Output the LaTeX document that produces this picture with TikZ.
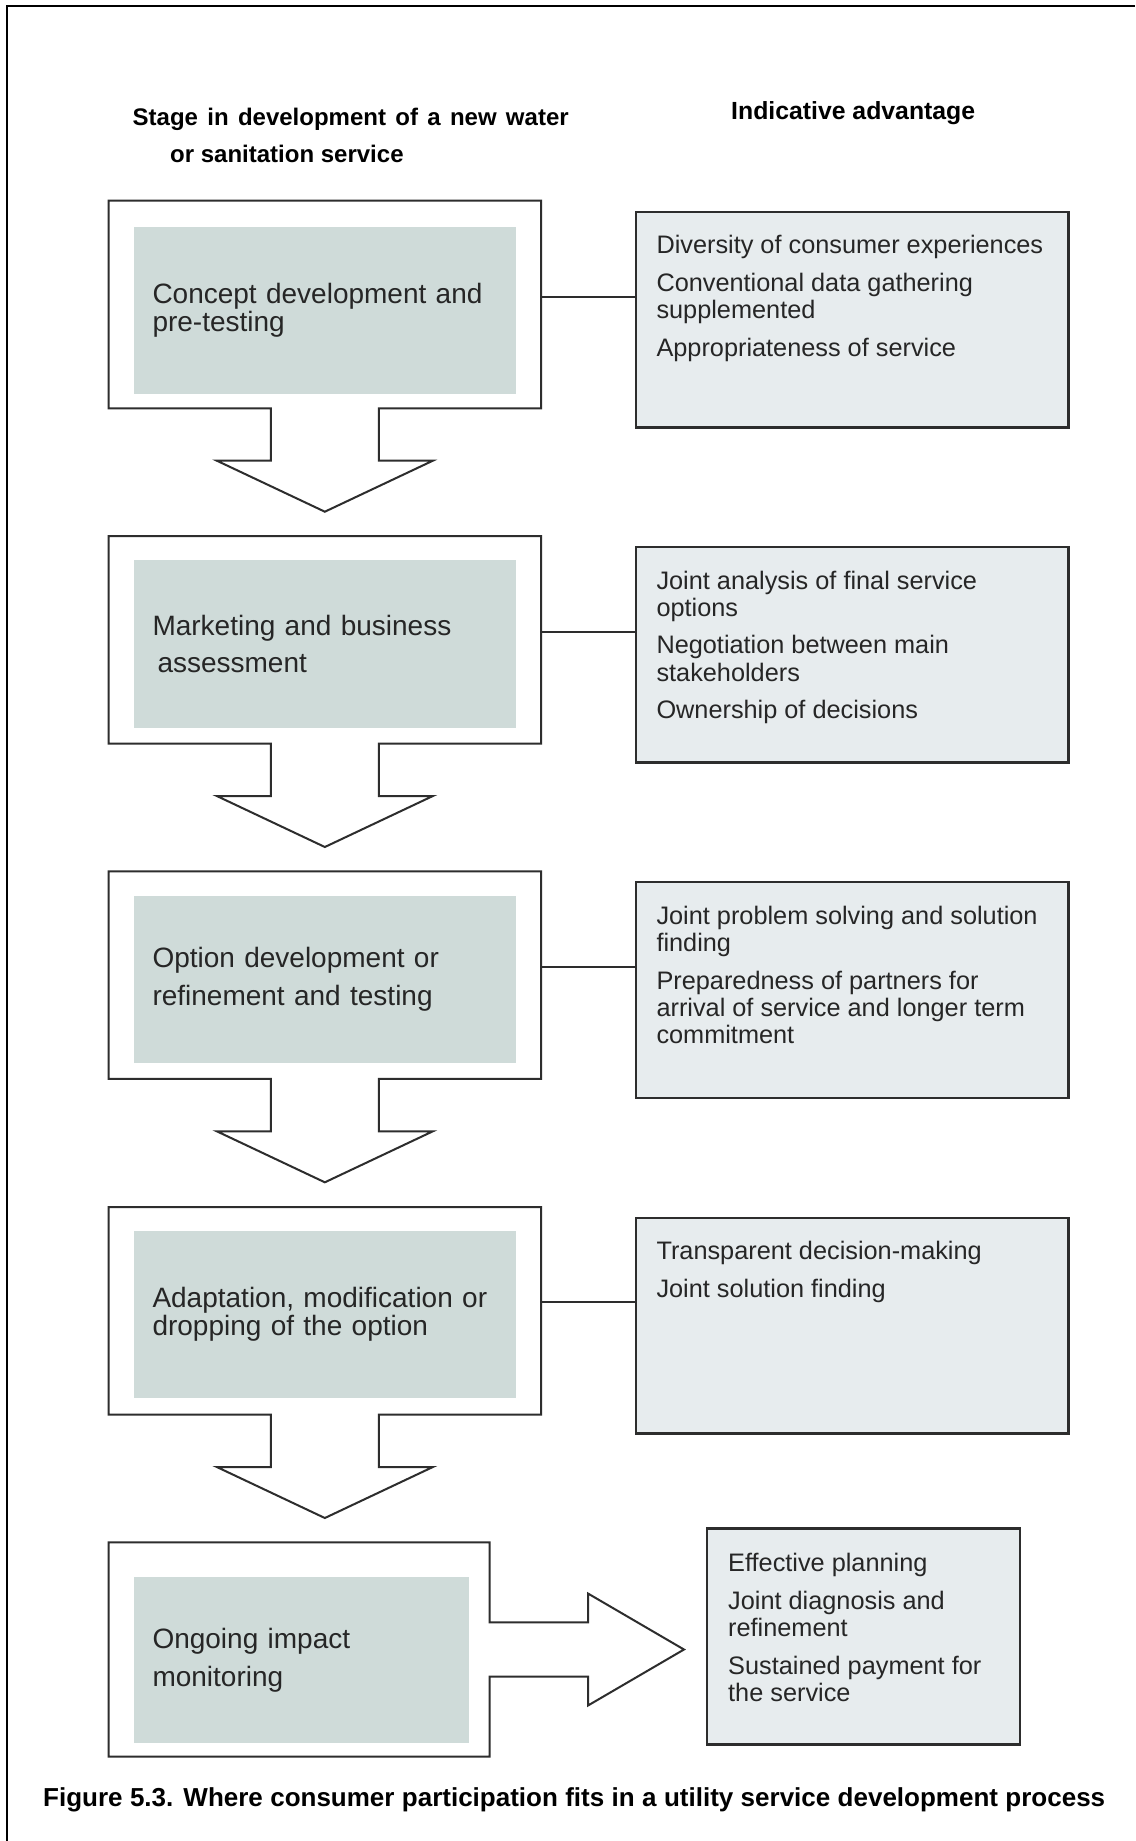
\documentclass[tikz,border=0pt]{standalone}
\usepackage{fontspec}
\setmainfont{Liberation Sans}
\usetikzlibrary{calc}
\definecolor{stagefill}{RGB}{207,219,217}
\definecolor{advfill}{RGB}{231,236,238}
\definecolor{linecol}{RGB}{45,45,45}
\definecolor{txtcol}{RGB}{38,38,38}
% outer frame of a stage box with the downward block arrow under it
\newcommand{\stagedown}[1]{%
  \draw[framepath] (#1.north west) -- (#1.north east) -- (#1.south east)
    -- ($(#1.south)+(54,0)$) -- ($(#1.south)+(54,52.4)$) -- ($(#1.south)+(108,52.4)$)
    -- ($(#1.south)+(0,103.4)$)
    -- ($(#1.south)+(-108,52.4)$) -- ($(#1.south)+(-54,52.4)$) -- ($(#1.south)+(-54,0)$)
    -- (#1.south west) -- cycle;}
\begin{document}
\begin{tikzpicture}[x=1pt,y=-1pt,
  outerbox/.style={draw=none, inner sep=0pt, outer sep=0pt, minimum width=432.3pt, minimum height=207.6pt},
  framepath/.style={draw=linecol, line width=2pt, fill=white, line join=miter},
  stagetext/.style={fill=stagefill, inner xsep=19pt, inner ysep=0pt, outer sep=0pt, text=txtcol,
    align=left, text width=344.8pt, minimum height=167.3pt, font=\fontsize{28}{28}\selectfont},
  stagewide/.style={font=\fontsize{28}{37.5}\selectfont},
  advbox/.style={draw=linecol, line width=2.4pt, fill=advfill, inner sep=0pt, outer sep=0pt,
    minimum width=432.3pt, minimum height=215.6pt},
  advtext/.style={anchor=north west, inner sep=0pt, outer sep=0pt, align=left, text=txtcol,
    font=\fontsize{25.3}{27.3}\selectfont},
  conn/.style={draw=linecol, line width=2pt},
  hdr/.style={anchor=base west, inner sep=0pt, font=\fontsize{24}{28}\selectfont\bfseries},
]
\useasboundingbox (0,0) rectangle (1135,1841);
\fill[white] (0,0) rectangle (1135,1841);

% page frame (top and left rules only)
\draw[line width=2.2pt, black, line join=miter] (7,1841) -- (7,5.7) -- (1135,5.7);

% headers
\node[hdr] (h1) at (132.5,126) {\makebox[436pt][s]{Stage in development of a new water}};
\node[hdr] (h2) at (170,162.7) {or sanitation service};
\node[hdr, font=\fontsize{24.8}{28}\selectfont\bfseries] (h3) at (731,119.3) {Indicative advantage};

% stage 1
\node[outerbox] (s1) at (324.85,304.5) {};
\stagedown{s1}
\node[stagetext] (g1) at (324.9,310.2) {Concept development and\\pre-testing};
\node[advbox] (r1) at (852.15,319.5) {};
\node[advtext] (a1) at ($(r1.north west)+(20.5,23.9)$) {Diversity of consumer experiences\\[10.2pt]Conventional data gathering\\supplemented\\[10.2pt]Appropriateness of service};
\coordinate (c1) at (0,296.7);
\draw[conn] (s1.east |- c1) -- (r1.west |- c1);

% stage 2
\node[outerbox] (s2) at (324.85,639.8) {};
\stagedown{s2}
\node[stagetext, stagewide] (g2) at (324.9,644) {Marketing and business\\\hspace*{5pt}assessment};
\node[advbox] (r2) at (852.15,654.7) {};
\node[advtext] (a2) at ($(r2.north west)+(20.5,23.9)$) {Joint analysis of final service\\options\\[10.2pt]Negotiation between main\\stakeholders\\[10.2pt]Ownership of decisions};
\coordinate (c2) at (0,631.9);
\draw[conn] (s2.east |- c2) -- (r2.west |- c2);

% stage 3
\node[outerbox] (s3) at (324.85,975.1) {};
\stagedown{s3}
\node[stagetext, stagewide] (g3) at (324.9,979.3) {Option development or\\refinement and testing};
\node[advbox] (r3) at (852.15,989.9) {};
\node[advtext] (a3) at ($(r3.north west)+(20.5,23.9)$) {Joint problem solving and solution\\finding\\[10.2pt]Preparedness of partners for\\arrival of service and longer term\\commitment};
\coordinate (c3) at (0,967.1);
\draw[conn] (s3.east |- c3) -- (r3.west |- c3);

% stage 4
\node[outerbox] (s4) at (324.85,1310.8) {};
\stagedown{s4}
\node[stagetext] (g4) at (324.9,1314.7) {Adaptation, modification or\\dropping of the option};
\node[advbox] (r4) at (852.15,1325.5) {};
\node[advtext] (a4) at ($(r4.north west)+(20.5,23.9)$) {Transparent decision-making\\[10.2pt]Joint solution finding};
\coordinate (c4) at (0,1302.3);
\draw[conn] (s4.east |- c4) -- (r4.west |- c4);

% stage 5 with right-pointing block arrow
\node[outerbox, minimum width=380.9pt, minimum height=214.4pt] (s5) at (299.15,1649.5) {};
\draw[framepath] (s5.north west) -- (s5.north east) -- ($(s5.east)+(0,-27.2)$)
  -- ($(s5.east)+(98.4,-27.2)$) -- ($(s5.east)+(98.4,-56)$) -- ($(s5.east)+(194.4,0)$)
  -- ($(s5.east)+(98.4,56)$) -- ($(s5.east)+(98.4,27.2)$) -- ($(s5.east)+(0,27.2)$)
  -- (s5.south east) -- (s5.south west) -- cycle;
\node[stagetext, stagewide, text width=297.1pt, minimum height=166pt] (g5) at (301.05,1660.3) {Ongoing impact\\monitoring};
\node[advbox, minimum width=312.8pt, minimum height=216pt] (r5) at (863.6,1636.3) {};
\node[advtext] (a5) at ($(r5.north west)+(21,25.3)$) {Effective planning\\[10.2pt]Joint diagnosis and\\refinement\\[10.2pt]Sustained payment for\\the service};

% caption
\node[anchor=base west, inner sep=0pt, font=\fontsize{26}{30}\selectfont\bfseries] (cap) at (43,1806.7)
  {\makebox[1062pt][s]{Figure 5.3. Where consumer participation fits in a utility service development process}};
\end{tikzpicture}
\end{document}
